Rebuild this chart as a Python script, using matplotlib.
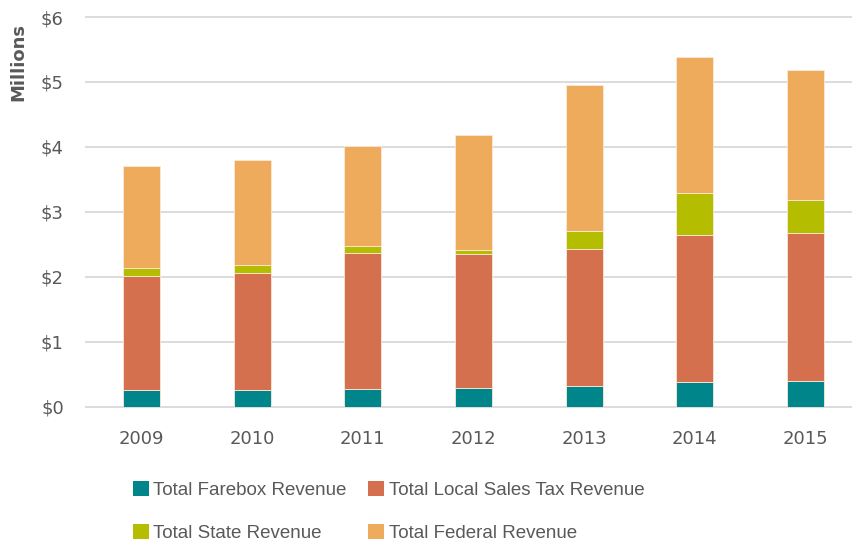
import matplotlib.pyplot as plt
from matplotlib.patches import Patch
from matplotlib.ticker import FuncFormatter
import numpy as np

years = ['2009', '2010', '2011', '2012', '2013', '2014', '2015']
farebox = [0.26, 0.25, 0.27, 0.29, 0.32, 0.38, 0.39]
sales_tax = [1.76, 1.81, 2.10, 2.06, 2.11, 2.27, 2.29]
state = [0.12, 0.12, 0.11, 0.07, 0.28, 0.64, 0.50]
federal = [1.57, 1.62, 1.53, 1.77, 2.25, 2.09, 2.01]

names = ['Total Farebox Revenue', 'Total Local Sales Tax Revenue',
         'Total State Revenue', 'Total Federal Revenue']
colors = ['#00868A', '#D4704E', '#B5BD00', '#EEAB5C']
series = [farebox, sales_tax, state, federal]

fig = plt.figure(figsize=(8.52, 5.42), dpi=100)
ax = fig.add_axes([0.101, 0.2496, 0.899, 0.719])

x = np.arange(len(years))
bottom = np.zeros(len(years))
for vals, c in zip(series, colors):
    ax.bar(x, vals, 0.334, bottom=bottom, color=c, edgecolor='#FBE9DA',
           linewidth=0.6, zorder=3)
    bottom += np.array(vals)

ax.set_ylim(0, 6)
ax.set_xlim(-0.5, 6.42)
ax.set_yticks(range(7))
ax.yaxis.set_major_formatter(FuncFormatter(lambda v, p: '$%d' % v))
ax.set_xticks(x)
ax.set_xticklabels(years)
ax.grid(axis='y', color='#DCDCDC', linewidth=1.4, zorder=0)
for gl in ax.get_ygridlines():
    gl.set_clip_on(False)
for s in ax.spines.values():
    s.set_visible(False)
ax.tick_params(axis='y', length=0, pad=16, labelsize=13, labelcolor='#595959')
ax.tick_params(axis='x', length=0, pad=17, labelsize=13, labelcolor='#595959')

fig.text(0.021, 0.886, 'Millions', rotation=90, ha='center', va='center',
         fontsize=13, fontweight='bold', color='#595959')

handles = [Patch(facecolor=c) for c in colors]
order = [0, 2, 1, 3]
fig.legend([handles[i] for i in order], [names[i] for i in order],
           ncol=2, loc='upper left', bbox_to_anchor=(0.136, 0.144),
           frameon=False, handlelength=0.85, handleheight=0.85,
           handletextpad=0.25, columnspacing=1.15, labelspacing=1.35,
           prop={'family': 'Liberation Sans', 'size': 13.5},
           labelcolor='#595959')

fig.savefig('out.png', dpi=100)
